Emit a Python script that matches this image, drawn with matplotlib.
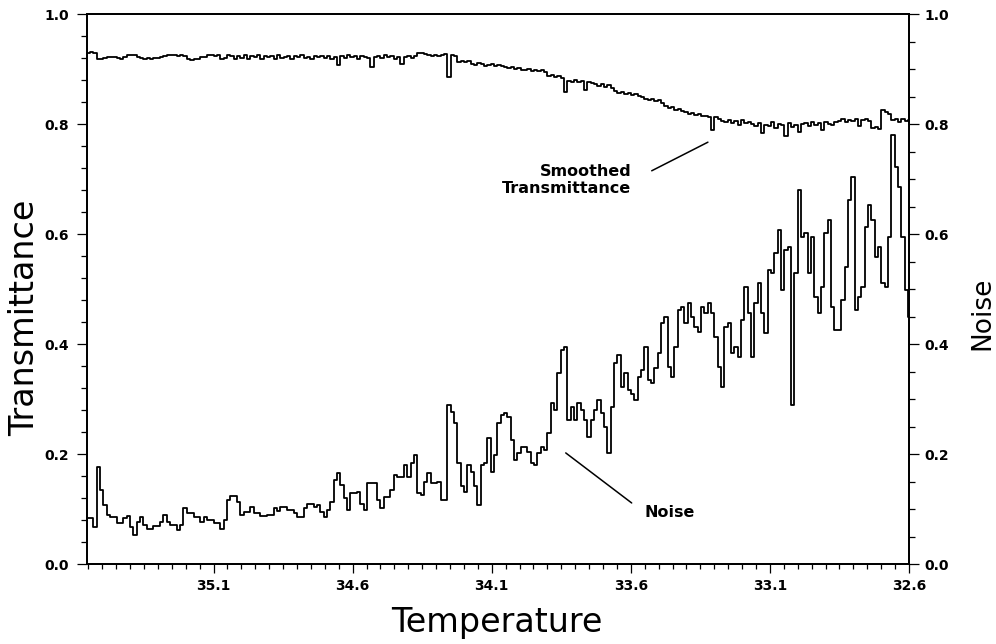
import numpy as np
import matplotlib
matplotlib.use("Agg")
import matplotlib.pyplot as plt
from matplotlib.font_manager import FontProperties
from matplotlib.ticker import FixedLocator, MultipleLocator, FormatStrFormatter

# ---- data ----
T_START = 35.55      # first sample temperature
T_STEP = 0.012       # sample spacing (temperature decreases to the right)

transmittance = [
    0.930, 0.931, 0.929, 0.919, 0.918, 0.920, 0.921, 0.922, 0.921, 0.920,
    0.919, 0.921, 0.925, 0.926, 0.925, 0.921, 0.920, 0.919, 0.920, 0.919,
    0.920, 0.920, 0.921, 0.924, 0.925, 0.925, 0.926, 0.924, 0.925, 0.923,
    0.918, 0.917, 0.918, 0.919, 0.922, 0.921, 0.925, 0.926, 0.924, 0.925,
    0.919, 0.920, 0.925, 0.923,
    0.919, 0.924, 0.920, 0.925, 0.919, 0.923, 0.921, 0.925, 0.918, 0.924,
    0.921, 0.923, 0.919, 0.925, 0.920, 0.922, 0.924, 0.919, 0.923, 0.921,
    0.925, 0.920, 0.922, 0.919, 0.924, 0.921, 0.923, 0.920, 0.924, 0.919,
    0.922,
    0.907,
    0.923, 0.920, 0.925, 0.921, 0.923, 0.919, 0.924, 0.922, 0.920,
    0.904,
    0.922, 0.924, 0.920, 0.925, 0.921, 0.923, 0.919, 0.922,
    0.910,
    0.921, 0.924, 0.920, 0.923,
    0.930, 0.929, 0.928,
    0.925, 0.924, 0.926, 0.923, 0.925, 0.927,
    0.886,
    0.926, 0.924,
    0.913, 0.915, 0.912, 0.914,
    0.910, 0.908, 0.911, 0.909, 0.906,
    0.907, 0.909, 0.905, 0.908, 0.906, 0.904,
    0.901, 0.903, 0.900, 0.902, 0.899,
    0.898, 0.900, 0.897, 0.899, 0.896, 0.898, 0.894,
    0.887, 0.889, 0.885, 0.888, 0.884, 0.859,
    0.879, 0.877, 0.880, 0.876, 0.878, 0.861, 0.877, 0.874,
    0.872, 0.870, 0.873, 0.868, 0.871, 0.866,
    0.860, 0.857, 0.858, 0.854, 0.856, 0.853, 0.855, 0.851, 0.849,
    0.846, 0.843, 0.845, 0.841, 0.843, 0.838,
    0.833, 0.829, 0.831, 0.826, 0.828, 0.823,
    0.821, 0.818, 0.820, 0.816, 0.819, 0.814,
    0.815, 0.812, 0.789, 0.813, 0.810,
    0.806, 0.803, 0.808, 0.801, 0.805, 0.799, 0.807, 0.802, 0.804, 0.800,
    0.797, 0.802, 0.784, 0.799, 0.796, 0.803, 0.792, 0.800, 0.798, 0.778,
    0.801, 0.795, 0.799, 0.786, 0.800,
    0.801, 0.797, 0.803, 0.799, 0.802, 0.790, 0.804, 0.800, 0.798, 0.803,
    0.806, 0.809, 0.804, 0.808, 0.805, 0.810, 0.797, 0.807, 0.809, 0.805,
    0.793, 0.795, 0.791,
    0.825, 0.822, 0.818,
    0.807, 0.809, 0.803, 0.810, 0.806, 0.808,
]

noise = [
    0.084, 0.084, 0.067, 0.176, 0.135, 0.107, 0.089, 0.085, 0.085, 0.074,
    0.074, 0.084, 0.087, 0.067, 0.053, 0.076, 0.085, 0.071, 0.063, 0.063,
    0.069, 0.069, 0.076, 0.089, 0.076, 0.071, 0.071, 0.062, 0.071, 0.101,
    0.093, 0.093, 0.086, 0.086, 0.076, 0.086, 0.080, 0.080, 0.074, 0.074,
    0.063, 0.080, 0.116, 0.123, 0.123, 0.113, 0.089, 0.095, 0.095, 0.104,
    0.093, 0.093, 0.087, 0.087, 0.089, 0.089, 0.101, 0.097, 0.103, 0.103,
    0.098, 0.098, 0.093, 0.086, 0.086, 0.101, 0.110, 0.110, 0.104, 0.107,
    0.095, 0.086, 0.098, 0.113, 0.153, 0.165, 0.144, 0.120, 0.098, 0.129,
    0.129, 0.131, 0.110, 0.098, 0.147, 0.148, 0.148, 0.116, 0.101, 0.122,
    0.122, 0.135, 0.162, 0.158, 0.158, 0.180, 0.158, 0.183, 0.198, 0.129,
    0.125, 0.149, 0.165, 0.147, 0.147, 0.149, 0.116, 0.116, 0.289, 0.277,
    0.256, 0.183, 0.141, 0.131, 0.180, 0.168, 0.141, 0.107, 0.180, 0.183,
    0.229, 0.168, 0.198, 0.256, 0.271, 0.274, 0.268, 0.225, 0.189, 0.201,
    0.213, 0.213, 0.204, 0.183, 0.180, 0.201, 0.213, 0.207, 0.238, 0.292,
    0.280, 0.347, 0.389, 0.395, 0.262, 0.286, 0.262, 0.292, 0.280, 0.262,
    0.231, 0.262, 0.280, 0.298, 0.274, 0.249, 0.201, 0.286, 0.366, 0.380,
    0.322, 0.347, 0.316, 0.310, 0.298, 0.340, 0.353, 0.395, 0.335, 0.329,
    0.356, 0.383, 0.438, 0.450, 0.358, 0.340, 0.395, 0.462, 0.468, 0.438,
    0.474, 0.450, 0.431, 0.422, 0.468, 0.456, 0.474, 0.456, 0.413, 0.358,
    0.322, 0.431, 0.438, 0.383, 0.395, 0.377, 0.444, 0.504, 0.456, 0.377,
    0.474, 0.511, 0.456, 0.420, 0.535, 0.529, 0.565, 0.607, 0.498, 0.571,
    0.577, 0.289, 0.529, 0.680, 0.595, 0.601, 0.529, 0.595, 0.486, 0.456,
    0.504, 0.601, 0.625, 0.468, 0.425, 0.425, 0.480, 0.540, 0.662, 0.704,
    0.462, 0.486, 0.504, 0.613, 0.653, 0.625, 0.558, 0.577, 0.511, 0.504,
    0.595, 0.780, 0.722, 0.686, 0.595, 0.498, 0.449,
]

x_major_ticks = [35.1, 34.6, 34.1, 33.6, 33.1, 32.6]
x_limits = (35.555, 32.60)

temp_trans = T_START - T_STEP * np.arange(len(transmittance))
temp_noise = T_START - T_STEP * np.arange(len(noise))

# ---- figure ----
fig = plt.figure(figsize=(9.96, 6.44), dpi=100)
ax = fig.add_axes([0.0873, 0.1242, 0.8254, 0.8540])
ax2 = ax.twinx()

ax.plot(temp_trans, transmittance, drawstyle="steps-mid", color="black", lw=1.3)
ax2.plot(temp_noise, noise, drawstyle="steps-mid", color="black", lw=1.3)

ax.set_xlim(*x_limits)
ax.set_ylim(0, 1)
ax2.set_ylim(0, 1)

ax.xaxis.set_major_locator(FixedLocator(x_major_ticks))
ax.xaxis.set_minor_locator(MultipleLocator(0.05))
ax.xaxis.set_major_formatter(FormatStrFormatter("%.1f"))

ax.yaxis.set_major_locator(MultipleLocator(0.2))
ax.yaxis.set_minor_locator(MultipleLocator(0.04))
ax.yaxis.set_major_formatter(FormatStrFormatter("%.1f"))
ax2.yaxis.set_major_locator(MultipleLocator(0.2))
ax2.yaxis.set_minor_locator(MultipleLocator(0.05))
ax2.yaxis.set_major_formatter(FormatStrFormatter("%.1f"))

ax.tick_params(axis="x", which="major", direction="out", length=6.5, width=0.9, pad=4)
ax.tick_params(axis="x", which="minor", direction="out", length=3.6, width=0.9)
ax.tick_params(axis="y", which="major", direction="out", length=7, width=0.9, pad=6)
ax.tick_params(axis="y", which="minor", direction="out", length=4.5, width=0.9)
ax2.tick_params(axis="y", which="major", direction="out", length=7, width=0.9, pad=4)
ax2.tick_params(axis="y", which="minor", direction="out", length=4.5, width=0.9)

tick_fp = FontProperties(family="DejaVu Sans", weight="bold", size=10)
for lab in ax.get_xticklabels() + ax.get_yticklabels() + ax2.get_yticklabels():
    lab.set_fontproperties(tick_fp)

for a in (ax, ax2):
    for s in a.spines.values():
        s.set_linewidth(1.3)

label_font = dict(family="DejaVu Sans", size=24)
fig.text(0.025, 0.506, "Transmittance", rotation=90, ha="center", va="center", **label_font)
fig.text(0.499, 0.034, "Temperature", ha="center", va="center", **label_font)
fig.text(0.986, 0.514, "Noise", rotation=90, ha="center", va="center",
         family="DejaVu Sans", size=19)

ann_font = dict(family="DejaVu Sans", weight="bold", size=11.5)
line_kw = dict(arrowstyle="-", color="black", lw=1.1, shrinkA=0, shrinkB=0)

ax.text(33.83, 0.698, "Smoothed\nTransmittance", ha="center", va="center",
        multialignment="right", linespacing=1.15, **ann_font)
ax.annotate("", xy=(33.323, 0.767), xytext=(33.525, 0.715), arrowprops=line_kw)

ax2.text(33.46, 0.093, "Noise", ha="center", va="center", **ann_font)
ax2.annotate("", xy=(33.834, 0.202), xytext=(33.597, 0.111), arrowprops=line_kw)

fig.savefig("out.png", dpi=100)
